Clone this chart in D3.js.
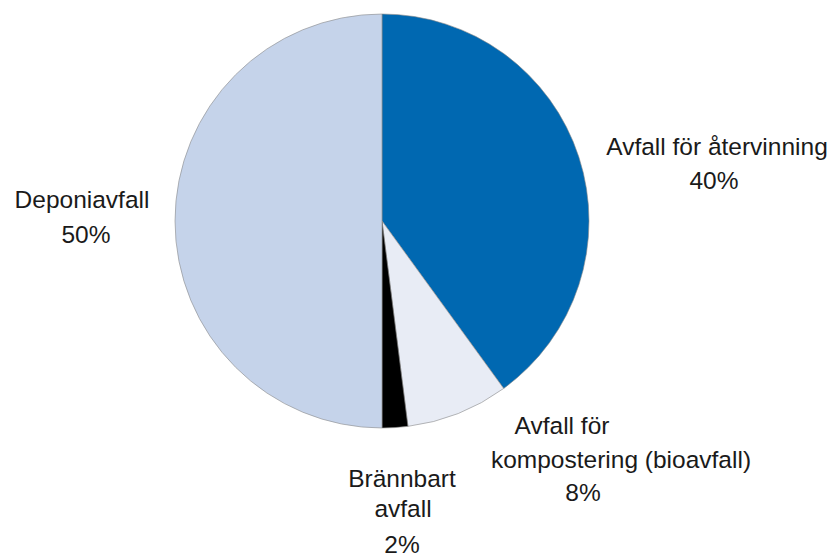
<!DOCTYPE html>
<html>
<head>
<meta charset="utf-8">
<script src="https://cdn.jsdelivr.net/npm/d3@7/dist/d3.min.js"></script>
<style>
  html, body { margin: 0; padding: 0; background: #fff; }
  svg { display: block; }
  text { font-family: "Liberation Sans", Arial, sans-serif; font-size: 24.5px; fill: #1a1a1a; }
</style>
</head>
<body>
<svg id="chart" width="832" height="557"></svg>
<script>
// Waste categories, clockwise from 12 o'clock
const categories = ["Avfall för återvinning", "Avfall för kompostering (bioavfall)", "Brännbart avfall", "Deponiavfall"];
const shares = [40, 8, 2, 50];
const colors = ["#0068b1", "#e8ecf5", "#000000", "#c5d3ea"];
// Label lines per category (as wrapped in the chart)
const labelLines = [
  ["Avfall för återvinning", "40%"],
  ["Avfall för", "kompostering (bioavfall)", "8%"],
  ["Brännbart", "avfall", "2%"],
  ["Deponiavfall", "50%"]
];

const svg = d3.select("#chart");
const cx = 382, cy = 221, r = 207;

const pie = d3.pie().sort(null).value(d => d)(shares);
const arc = d3.arc().innerRadius(0).outerRadius(r);

const g = svg.append("g").attr("transform", `translate(${cx},${cy})`);
g.selectAll("path")
  .data(pie)
  .join("path")
  .attr("d", arc)
  .attr("fill", (d, i) => colors[i])
  .attr("stroke", "#8a8a8a")
  .attr("stroke-width", 0.6);

// Label placement: centre x and baseline y of each line
const labelPos = [
  { x: [717, 714], y: [155, 189] },
  { x: [562, 621, 583], y: [434, 468, 501] },
  { x: [402, 403, 402], y: [487, 517, 553] },
  { x: [82, 86], y: [208, 243] }
];

labelLines.forEach((lines, i) => {
  const p = labelPos[i];
  const t = svg.append("text").attr("text-anchor", "middle");
  lines.forEach((ln, j) => {
    t.append("tspan")
      .attr("x", p.x[j])
      .attr("y", p.y[j])
      .text(ln);
  });
});
</script>
</body>
</html>
